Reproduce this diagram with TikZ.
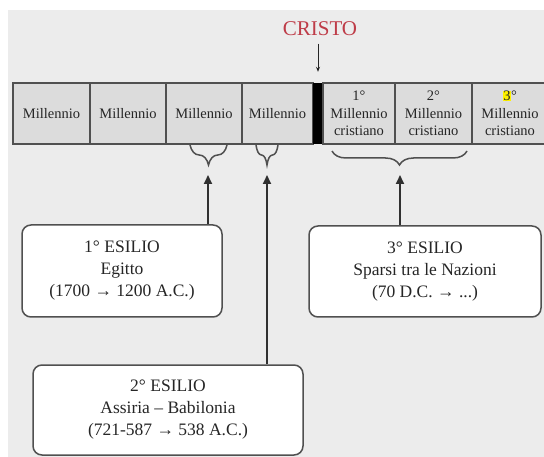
\documentclass[tikz,border=0pt]{standalone}
\usepackage{fontspec}
\setmainfont{Liberation Serif}
\usetikzlibrary{decorations.pathreplacing,arrows.meta}
\definecolor{bg}{HTML}{ECECEC}
\definecolor{cellfill}{HTML}{DCDCDC}
\definecolor{edge}{HTML}{505050}
\definecolor{txt}{HTML}{262626}
\definecolor{arrowc}{HTML}{303030}
\definecolor{cristored}{RGB}{190,60,72}
\definecolor{hl}{HTML}{FFF200}
\begin{document}
\begin{tikzpicture}[x=1pt,y=-1pt,
  cell/.style={draw=edge, fill=cellfill, line width=1.2pt, minimum height=61pt,
    inner sep=0pt, align=center, font=\fontsize{14.5}{17.5}\selectfont, text=txt},
  exbox/.style={draw=edge, fill=white, rounded corners=9pt, line width=1.5pt,
    inner sep=0pt, align=center, font=\fontsize{17.5}{22}\selectfont, text=txt},
  brc/.style={decorate, decoration={brace, amplitude=#1}, draw=edge, line width=1.5pt},
  uparrow/.style={-{Triangle[length=9pt,width=8pt]}, line width=1.8pt, draw=arrowc}
]
\useasboundingbox (0,0) rectangle (544,457);
\clip (0,0) rectangle (544,457);
\fill[bg] (8,10) rectangle (544,457);

% timeline cells
\node[cell, minimum width=77pt] (c1) at (51.5,113.5) {Millennio};
\node[cell, minimum width=76pt] (c2) at (128,113.5) {Millennio};
\node[cell, minimum width=76pt] (c3) at (204,113.5) {Millennio};
\node[cell, minimum width=71pt] (c4) at (277.5,113.5) {Millennio};
\node[fill=black, minimum width=10pt, minimum height=61pt, inner sep=0pt] (bar) at (318,113.5) {};
\node[cell, minimum width=72pt] (c5) at (359,113.5) {1°\\Millennio\\cristiano};
\node[cell, minimum width=77pt] (c6) at (433.5,113.5) {2°\\Millennio\\cristiano};
\node[cell, minimum width=76pt] (c7) at (510,113.5) {{\fboxsep=0.3pt\colorbox{hl}{3}}°\\Millennio\\cristiano};

% CRISTO
\node[font=\fontsize{21}{21}\selectfont, text=cristored] (cr) at (320,29) {CRISTO};
\draw[-{Stealth[length=5pt,width=4pt]}, line width=0.8pt, draw=txt, shorten <=4pt, shorten >=11pt]
  (cr.south -| bar.north) -- (bar.north);

% braces
\draw[brc=20pt] (227,145) -- (190,145);
\coordinate (t1) at (208,166);
\draw[brc=20pt] (278,145) -- (256,145);
\coordinate (t2) at (267,166);
\draw[brc=14pt] (467,151) -- (332,151);
\coordinate (t3) at (400,166);

% exile boxes
\node[exbox, minimum width=200pt, minimum height=92pt] (b1) at (122,271)
  {1° ESILIO\\Egitto\\(1700 → 1200 A.C.)};
\node[exbox, minimum width=232pt, minimum height=91pt] (b3) at (425,271.5)
  {3° ESILIO\\Sparsi tra le Nazioni\\(70 D.C. → ...)};
\node[exbox, minimum width=270pt, minimum height=90pt] (b2) at (168,410)
  {2° ESILIO\\Assiria – Babilonia\\(721-587 → 538 A.C.)};

% arrows
\draw[uparrow, shorten >=9pt] (b1.north -| t1) -- (t1);
\draw[uparrow, shorten >=9pt] (b2.north -| t2) -- (t2);
\draw[uparrow, shorten >=9pt] (b3.north -| t3) -- (t3);
\end{tikzpicture}
\end{document}
